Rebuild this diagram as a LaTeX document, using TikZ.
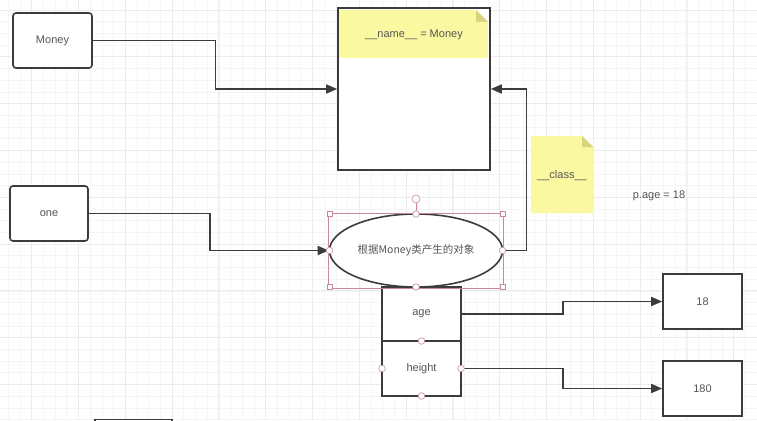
\documentclass[tikz,border=0pt]{standalone}
\usepackage{fontspec}
\setmainfont{Liberation Sans}
\newfontfamily\cjk{Noto Sans CJK SC}
\usetikzlibrary{arrows.meta,shapes.geometric}
\definecolor{ln}{HTML}{3C3C3C}
\definecolor{txt}{HTML}{555555}
\definecolor{notefill}{HTML}{FBF8A2}
\definecolor{foldfill}{HTML}{D9D57E}
\definecolor{sel}{HTML}{C98A97}
\definecolor{gminor}{HTML}{F5F5F5}
\definecolor{gmajor}{HTML}{ECECEC}
\tikzset{
  boxline/.style={draw=ln, line width=1.6pt},
  plainbox/.style={boxline, fill=white, text=txt, font=\fontsize{11}{13}\selectfont, inner sep=0pt},
  roundbox/.style={plainbox, rounded corners=3pt},
  arr/.style={draw=ln, line width=1.6pt, -{Triangle[length=11pt,width=9pt]}},
  notetext/.style={text=txt, font=\fontsize{11}{13}\selectfont, inner sep=0pt},
  selline/.style={draw=sel, line width=0.6pt},
  selsq/.style={draw=sel, fill=white, line width=0.6pt},
  selci/.style={draw=sel, fill=white, line width=0.6pt},
}
\begin{document}
\begin{tikzpicture}[x=1pt,y=-1pt]
\useasboundingbox (0,0) rectangle (757,420);
\fill[white] (0,0) rectangle (757,420);
% grid
\foreach \i in {0,...,65} {\draw[gminor, line width=0.6pt] ({8.2+11.7*\i},0) -- ({8.2+11.7*\i},420);}
\foreach \i in {0,...,36} {\draw[gminor, line width=0.6pt] (0,{10+11.7*\i}) -- (757,{10+11.7*\i});}
\foreach \i in {0,...,16} {\draw[gmajor, line width=0.8pt] ({31.6+46.8*\i},0) -- ({31.6+46.8*\i},420);}
\foreach \i in {0,...,9} {\draw[gmajor, line width=0.8pt] (0,{10+46.8*\i}) -- (757,{10+46.8*\i});}

% class box
\node[plainbox, minimum width=152, minimum height=162] (cls) at (414,89) {};
% name note
\fill[notefill] (339,10) -- (476,10) -- (488,22) -- (488,58) -- (339,58) -- cycle;
\fill[foldfill] (476,10) -- (488,22) -- (476,22) -- cycle;
\node[notetext] (nametxt) at (414,35) {\_\_name\_\_ = Money};

% class note
\fill[notefill] (531,136) -- (582,136) -- (593,147) -- (593,213) -- (531,213) -- cycle;
\fill[foldfill] (582,136) -- (593,147) -- (582,147) -- cycle;
\node[notetext] (classtxt) at (562,176) {\_\_class\_\_};

\node[notetext] (page) at (659,196) {p.age = 18};

% left boxes
\node[roundbox, minimum width=79, minimum height=55] (money) at (52.5,40.5) {Money};
\node[roundbox, minimum width=78, minimum height=55] (one) at (49,213.5) {one};

% object ellipse
\node[ellipse, boxline, fill=white, text=txt, inner sep=0pt, minimum width=173, minimum height=73, font=\cjk\fontsize{10.5}{12}\selectfont] (obj) at (416,250.5) {根据Money类产生的对象};

% attribute boxes
\node[plainbox, minimum width=79, minimum height=54] (age) at (421.5,314) {age};
\node[plainbox, minimum width=79, minimum height=55] (height) at (421.5,368.5) {height};

% value boxes
\node[plainbox, minimum width=79, minimum height=55] (v18) at (702.5,301.5) {18};
\node[plainbox, minimum width=79, minimum height=55] (v180) at (702.5,388.5) {180};

% partial box at bottom edge
\draw[boxline] (95,419.5) rectangle (172,445);

% connectors
\draw[arr] (money.east) -- ++(122.5,0) |- (cls.west);
\draw[arr] (one.east) -- ++(121,0) |- (obj.west);
\draw[arr] (obj.east) -- ++(23,0) |- (cls.east);
\draw[arr] (age.east) -- ++(101,0) |- (v18.west);
\draw[arr] (height.east) -- ++(101,0) |- (v180.west);

% selection handles around ellipse
\draw[selline] (obj.west |- obj.north) rectangle (obj.east |- obj.south);
\draw[selline] (obj.north) -- ++(0,-11);
\node[circle, selci, minimum size=8, inner sep=0pt] (rot) at (416,199) {};
\foreach \p in {(329.5,214),(502.5,214),(329.5,287),(502.5,287)} {\draw[selsq] \p ++(-2.7,-2.7) rectangle ++(5.4,5.4);}
\foreach \p in {(416,214),(416,287),(329.5,250.5),(502.5,250.5)} {\draw[selci] \p circle (3.3);}
% selection handles on height box
\foreach \p in {(421.5,341),(421.5,396),(382,368.5),(461,368.5)} {\draw[selci] \p circle (3.3);}
\end{tikzpicture}
\end{document}
